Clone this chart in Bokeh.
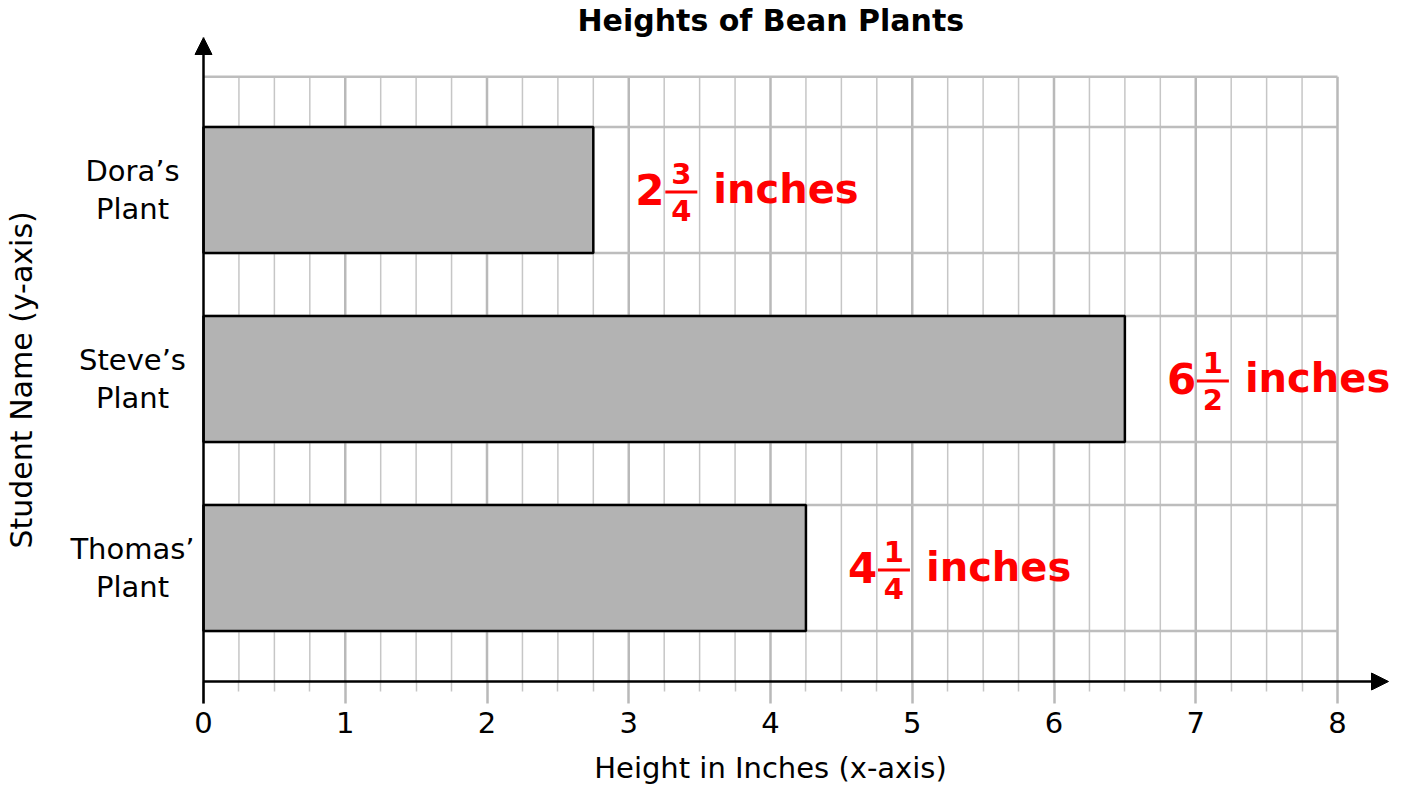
from bokeh.plotting import figure
from bokeh.models import FixedTicker, Arrow, NormalHead, ColumnDataSource, Range1d, Title
from bokeh.core.properties import value
from bokeh.embed import file_html
from bokeh.resources import INLINE

# ---- data ----
students = ["Dora’s Plant", "Steve’s Plant", "Thomas’ Plant"]
heights = [2.75, 6.5, 4.25]
whole_parts = ["2", "6", "4"]
numerators = ["3", "1", "1"]
denominators = ["4", "2", "4"]
unit_word = "inches"
x_ticks = [0, 1, 2, 3, 4, 5, 6, 7, 8]
chart_title = "Heights of Bean Plants"
x_title = "Height in Inches (x-axis)"
y_title = "Student Name (y-axis)"

# ---- layout constants (page pixels) ----
FONT = "DejaVu Sans"
PX = 141.75          # px per inch
PY = 189.0           # px per category row
FRAME_LEFT = 39      # page x of frame left edge (after the y-title panel)
FRAME_TOP = 36
FRAME_BOTTOM = 783
X0_PAGE, Y0_PAGE = 203, 680
FRAME_W = 1395 - FRAME_LEFT
FRAME_H = FRAME_BOTTOM - FRAME_TOP
n = len(students)
ys = [round(n - i - 0.4, 6) for i in range(n)]
bar_h = 2.0 / 3.0
y_top = n + 0.2
x_max = x_ticks[-1]

x_start = -(X0_PAGE - FRAME_LEFT) / PX
x_end = x_start + FRAME_W / PX
y_start = -(FRAME_BOTTOM - Y0_PAGE) / PY
y_end = y_start + FRAME_H / PY

p = figure(frame_width=FRAME_W, frame_height=FRAME_H,
           x_range=Range1d(x_start, x_end), y_range=Range1d(y_start, y_end),
           output_backend="svg", toolbar_location=None,
           min_border_left=0, min_border_right=0, min_border_top=0, min_border_bottom=0)
p.outline_line_color = None
p.xgrid.visible = False
p.ygrid.visible = False
p.background_fill_color = "white"

# title
p.title.text = chart_title
p.title.align = "left"
p.title.offset = 577 - FRAME_LEFT
p.title.standoff = 0
p.title.text_font = FONT
p.title.text_font_size = "30px"
p.title.text_font_style = "bold"
p.title.text_color = "black"

# ---- grid ----
minor_x = [a + f for a in x_ticks[:-1] for f in (0.25, 0.5, 0.75)]
major_x = x_ticks[1:]
p.segment(x0=minor_x, y0=[0] * len(minor_x), x1=minor_x, y1=[y_top] * len(minor_x),
          line_color="#c6c6c6", line_width=1.5)
p.segment(x0=major_x, y0=[0] * len(major_x), x1=major_x, y1=[y_top] * len(major_x),
          line_color="#b9b9b9", line_width=2.5)
h_y = [y_top] + [c + s * bar_h / 2 for c in ys for s in (1, -1)]
p.segment(x0=[0] * len(h_y), y0=h_y, x1=[x_max] * len(h_y), y1=h_y,
          line_color="#bdbdbd", line_width=2.5)

# ---- bars ----
src = ColumnDataSource(dict(
    y=ys, h=heights, whole=whole_parts, num=numerators, den=denominators,
    word=[unit_word] * n,
    y_whole=[c + 1 / PY for c in ys],
    y_num=[c + 17 / PY for c in ys],
    y_den=[c - 20 / PY for c in ys],
    y_bar=[c - 2 / PY for c in ys],
    fx0=[h + 72 / PX for h in heights],
    fx1=[h + 104 / PX for h in heights],
))
p.hbar(y="y", left=0, right="h", height=bar_h, source=src,
       fill_color="#b3b3b3", line_color="black", line_width=2.5)

# ---- x axis drawn at y = 0 (ticks + tick labels) ----
xa = p.xaxis[0]
xa.fixed_location = 0
xa.ticker = FixedTicker(ticks=x_ticks, minor_ticks=minor_x)
xa.axis_line_color = None
xa.major_tick_in = 0
xa.major_tick_out = 22
xa.major_tick_line_color = "#b9b9b9"
xa.major_tick_line_width = 2.5
xa.minor_tick_in = 0
xa.minor_tick_out = 10
xa.minor_tick_line_color = "#c6c6c6"
xa.minor_tick_line_width = 1.5
xa.major_label_standoff = 8
xa.major_label_text_font = FONT
xa.major_label_text_font_size = "29px"
xa.major_label_text_color = "black"

p.yaxis.visible = False

# ---- axes lines with arrows ----
p.add_layout(Arrow(end=NormalHead(size=17, fill_color="black", line_color="black", line_width=1),
                   x_start=0, y_start=0, x_end=(1388 - X0_PAGE) / PX, y_end=0,
                   line_color="black", line_width=2.5))
p.add_layout(Arrow(end=NormalHead(size=17, fill_color="black", line_color="black", line_width=1),
                   x_start=0, y_start=-22 / PY, x_end=0, y_end=(Y0_PAGE - 36) / PY,
                   line_color="black", line_width=2.5))

# ---- value labels ----
red = "#ff0000"
p.text(x="h", y="y_whole", text="whole", source=src, x_offset=42,
       text_align="left", text_baseline="middle", text_color=red,
       text_font=value(FONT), text_font_style="bold", text_font_size="42px")
p.text(x="h", y="y_num", text="num", source=src, x_offset=88,
       text_align="center", text_baseline="middle", text_color=red,
       text_font=value(FONT), text_font_style="bold", text_font_size="29px")
p.text(x="h", y="y_den", text="den", source=src, x_offset=88,
       text_align="center", text_baseline="middle", text_color=red,
       text_font=value(FONT), text_font_style="bold", text_font_size="29px")
p.segment(x0="fx0", y0="y_bar", x1="fx1", y1="y_bar", source=src,
          line_color=red, line_width=3)
p.text(x="h", y="y_whole", text="word", source=src, x_offset=120,
       text_align="left", text_baseline="middle", text_color=red,
       text_font=value(FONT), text_font_style="bold", text_font_size="40px")

# ---- category labels (two centred lines, left of the y axis) ----
first = [s.split(" ", 1)[0] for s in students]
second = [s.split(" ", 1)[1] for s in students]
cat_src = ColumnDataSource(dict(
    x=[-71 / PX] * n, y1=[c + 19 / PY for c in ys], y2=[c - 19 / PY for c in ys],
    l1=first, l2=second))
for ycol, tcol in (("y1", "l1"), ("y2", "l2")):
    p.text(x="x", y=ycol, text=tcol, source=cat_src,
           text_align="center", text_baseline="middle",
           text_font=value(FONT), text_font_size="29px", text_color="black")

# ---- x axis title (centred under 0..8) ----
p.text(x=[(x_ticks[0] + x_ticks[-1]) / 2], y=[-(766 - Y0_PAGE) / PY], text=[x_title],
       text_align="center", text_baseline="middle",
       text_font=value(FONT), text_font_size="29px", text_color="black")

# ---- y axis title ----
p.add_layout(Title(text=y_title, align="left", offset=FRAME_BOTTOM - 547, standoff=2,
                   text_font=FONT, text_font_size="30px", text_font_style="normal",
                   text_color="black"), "left")

open("out.html", "w").write(file_html(p, INLINE))
